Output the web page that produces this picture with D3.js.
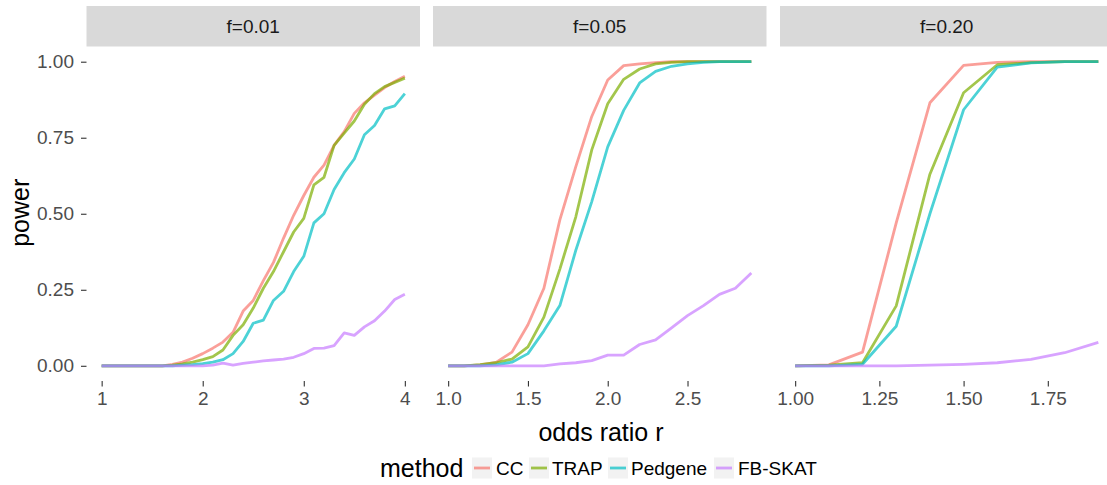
<!DOCTYPE html>
<html>
<head>
<meta charset="utf-8">
<script src="https://cdn.jsdelivr.net/npm/d3@7"></script>
<style>
  html, body { margin: 0; padding: 0; background: #fff; }
  svg text { font-family: "Liberation Sans", Arial, sans-serif; }
</style>
</head>
<body>
<svg id="chart" width="1107" height="485"></svg>
<script>
// Facet labels, methods and tick labels
const facets = ["f=0.01", "f=0.05", "f=0.20"];
const methods = ["CC", "TRAP", "Pedgene", "FB-SKAT"];
const methodColors = ["#F8766D", "#7CAE00", "#00BFC4", "#C77CFF"];

const xTicks001 = [1, 2, 3, 4];
const xTickLabels001 = ["1", "2", "3", "4"];
const xTicks005 = [1.0, 1.5, 2.0, 2.5];
const xTickLabels005 = ["1.0", "1.5", "2.0", "2.5"];
const xTicks020 = [1.00, 1.25, 1.50, 1.75];
const xTickLabels020 = ["1.00", "1.25", "1.50", "1.75"];
const yTicks = [0, 0.25, 0.5, 0.75, 1];
const yTickLabels = ["0.00", "0.25", "0.50", "0.75", "1.00"];

// f = 0.01
const oddsRatio001 = [1.0, 1.1, 1.2, 1.3, 1.4, 1.5, 1.6, 1.7, 1.8, 1.9, 2.0, 2.1, 2.2, 2.3, 2.4, 2.5,
  2.6, 2.7, 2.8, 2.9, 3.0, 3.1, 3.2, 3.3, 3.4, 3.5, 3.6, 3.7, 3.8, 3.9, 4.0];
const cc001 = [0, 0, 0, 0, 0, 0, 0, 0.005, 0.012, 0.025, 0.04, 0.058, 0.078, 0.11, 0.18, 0.215,
  0.28, 0.34, 0.42, 0.495, 0.56, 0.62, 0.66, 0.725, 0.77, 0.83, 0.865, 0.89, 0.915, 0.935, 0.952];
const trap001 = [0, 0, 0, 0, 0, 0, 0, 0.002, 0.006, 0.012, 0.02, 0.03, 0.052, 0.1, 0.135, 0.19,
  0.255, 0.31, 0.375, 0.44, 0.485, 0.595, 0.62, 0.725, 0.765, 0.805, 0.86, 0.895, 0.918, 0.932, 0.946];
const pedgene001 = [0, 0, 0, 0, 0, 0, 0, 0, 0.002, 0.004, 0.007, 0.012, 0.02, 0.04, 0.08, 0.14,
  0.15, 0.215, 0.245, 0.31, 0.36, 0.47, 0.5, 0.58, 0.635, 0.68, 0.76, 0.79, 0.845, 0.855, 0.895];
const fbskat001 = [0, 0, 0, 0, 0, 0, 0, 0, 0, 0, 0, 0.002, 0.009, 0.002, 0.008, 0.012,
  0.016, 0.019, 0.022, 0.028, 0.04, 0.057, 0.058, 0.066, 0.108, 0.1, 0.128, 0.148, 0.18, 0.218, 0.235];

// f = 0.05
const oddsRatio005 = [1.0, 1.1, 1.2, 1.3, 1.4, 1.5, 1.6, 1.7, 1.8, 1.9, 2.0, 2.1, 2.2, 2.3, 2.4,
  2.5, 2.6, 2.7, 2.8, 2.9];
const cc005 = [0, 0, 0.003, 0.011, 0.045, 0.135, 0.255, 0.48, 0.655, 0.82, 0.94, 0.987, 0.993, 0.997, 1,
  1, 1, 1, 1, 1];
const trap005 = [0, 0, 0.004, 0.01, 0.022, 0.062, 0.16, 0.318, 0.49, 0.71, 0.862, 0.942, 0.976, 0.993, 0.998,
  1, 1, 1, 1, 1];
const pedgene005 = [0, 0, 0, 0.003, 0.012, 0.04, 0.115, 0.198, 0.38, 0.54, 0.72, 0.84, 0.93, 0.968, 0.985,
  0.993, 0.998, 1, 1, 1];
const fbskat005 = [0, 0, 0, 0, 0, 0, 0, 0.006, 0.01, 0.017, 0.035, 0.035, 0.07, 0.085, 0.125,
  0.165, 0.198, 0.235, 0.255, 0.305];

// f = 0.20
const oddsRatio020 = [1.0, 1.1, 1.2, 1.3, 1.4, 1.5, 1.6, 1.7, 1.8, 1.9];
const cc020 = [0, 0.003, 0.045, 0.47, 0.865, 0.988, 0.998, 1, 1, 1];
const trap020 = [0, 0.002, 0.01, 0.197, 0.63, 0.898, 0.99, 0.997, 1, 1];
const pedgene020 = [0, 0, 0.005, 0.13, 0.5, 0.842, 0.982, 0.996, 1, 1];
const fbskat020 = [0, 0, 0, 0, 0.002, 0.005, 0.01, 0.021, 0.043, 0.077];

const panels = [
  { label: facets[0], x: oddsRatio001, series: [cc001, trap001, pedgene001, fbskat001],
    ticks: xTicks001, tickLabels: xTickLabels001 },
  { label: facets[1], x: oddsRatio005, series: [cc005, trap005, pedgene005, fbskat005],
    ticks: xTicks005, tickLabels: xTickLabels005 },
  { label: facets[2], x: oddsRatio020, series: [cc020, trap020, pedgene020, fbskat020],
    ticks: xTicks020, tickLabels: xTickLabels020 }
];

// Layout
const panelLeft = [86.5, 433, 780];
const panelW = 333.5;
const panelTop = 46.5;
const panelBottom = 381;
const stripTop = 6;
const tickLen = 5.5;
const smallFont = 19;
const titleFont = 25;

const svg = d3.select("#chart");

const y = d3.scaleLinear()
  .domain([-0.05, 1.05])
  .range([panelBottom, panelTop]);

// Y axis on the first panel
const yAxis = d3.axisLeft(y)
  .tickValues(yTicks)
  .tickFormat((d, i) => yTickLabels[i])
  .tickSize(tickLen)
  .tickPadding(7);

const yG = svg.append("g")
  .attr("transform", `translate(${panelLeft[0]},0)`)
  .call(yAxis);
yG.select(".domain").remove();
yG.selectAll(".tick line").attr("stroke", "#333333").attr("stroke-width", 1.1);
yG.selectAll(".tick text")
  .attr("fill", "#4D4D4D")
  .style("font-size", smallFont + "px");

panels.forEach((p, pi) => {
  const x0 = panelLeft[pi];
  const ext = d3.extent(p.x);
  const pad = (ext[1] - ext[0]) * 0.05;
  const x = d3.scaleLinear()
    .domain([ext[0] - pad, ext[1] + pad])
    .range([x0, x0 + panelW]);

  // Strip
  svg.append("rect")
    .attr("x", x0).attr("y", stripTop)
    .attr("width", panelW).attr("height", panelTop - stripTop)
    .attr("fill", "#D9D9D9");
  svg.append("text")
    .attr("x", x0 + panelW / 2)
    .attr("y", (stripTop + panelTop) / 2)
    .attr("dy", "0.36em")
    .attr("text-anchor", "middle")
    .attr("fill", "#1A1A1A")
    .style("font-size", smallFont + "px")
    .text(p.label);

  // X axis
  const xAxis = d3.axisBottom(x)
    .tickValues(p.ticks)
    .tickFormat((d, i) => p.tickLabels[i])
    .tickSize(tickLen)
    .tickPadding(5);
  const xG = svg.append("g")
    .attr("transform", `translate(0,${panelBottom})`)
    .call(xAxis);
  xG.select(".domain").remove();
  xG.selectAll(".tick line").attr("stroke", "#333333").attr("stroke-width", 1.1);
  xG.selectAll(".tick text")
    .attr("fill", "#4D4D4D")
    .style("font-size", smallFont + "px");

  // Lines
  const line = d3.line()
    .x((d, i) => x(p.x[i]))
    .y(d => y(d));
  const clipId = "clip" + pi;
  svg.append("clipPath").attr("id", clipId)
    .append("rect")
    .attr("x", x0).attr("y", panelTop)
    .attr("width", panelW).attr("height", panelBottom - panelTop);
  const lg = svg.append("g").attr("clip-path", `url(#${clipId})`);
  p.series.forEach((vals, si) => {
    lg.append("path")
      .datum(vals)
      .attr("d", line)
      .attr("fill", "none")
      .attr("stroke", methodColors[si])
      .attr("stroke-opacity", 0.7)
      .attr("stroke-width", 2.8)
      .attr("stroke-linejoin", "round");
  });
});

// Axis titles
svg.append("text")
  .attr("x", 601)
  .attr("y", 441)
  .attr("text-anchor", "middle")
  .attr("fill", "#000")
  .style("font-size", titleFont + "px")
  .text("odds ratio r");

svg.append("text")
  .attr("transform", `translate(29,${(panelTop + panelBottom) / 2 - 1}) rotate(-90)`)
  .attr("text-anchor", "middle")
  .attr("fill", "#000")
  .style("font-size", titleFont + "px")
  .text("power");

// Legend
const legendY = 468;
const legend = svg.append("g");
legend.append("text")
  .attr("x", 380).attr("y", legendY)
  .attr("dy", "0.36em")
  .attr("fill", "#000")
  .style("font-size", titleFont + "px")
  .text("method");

const keyX = [472, 529, 608, 714];
const labelX = [496, 552, 631, 738];
const keyW = 20, keyH = 21;
methods.forEach((m, i) => {
  legend.append("rect")
    .attr("x", keyX[i]).attr("y", legendY - keyH / 2)
    .attr("width", keyW).attr("height", keyH)
    .attr("fill", "#F2F2F2");
  legend.append("line")
    .attr("x1", keyX[i] + 2).attr("x2", keyX[i] + keyW - 2)
    .attr("y1", legendY).attr("y2", legendY)
    .attr("stroke", methodColors[i])
    .attr("stroke-opacity", 0.7)
    .attr("stroke-width", 2.8);
  legend.append("text")
    .attr("x", labelX[i]).attr("y", legendY)
    .attr("dy", "0.36em")
    .attr("fill", "#000")
    .style("font-size", smallFont + "px")
    .text(m);
});
</script>
</body>
</html>
